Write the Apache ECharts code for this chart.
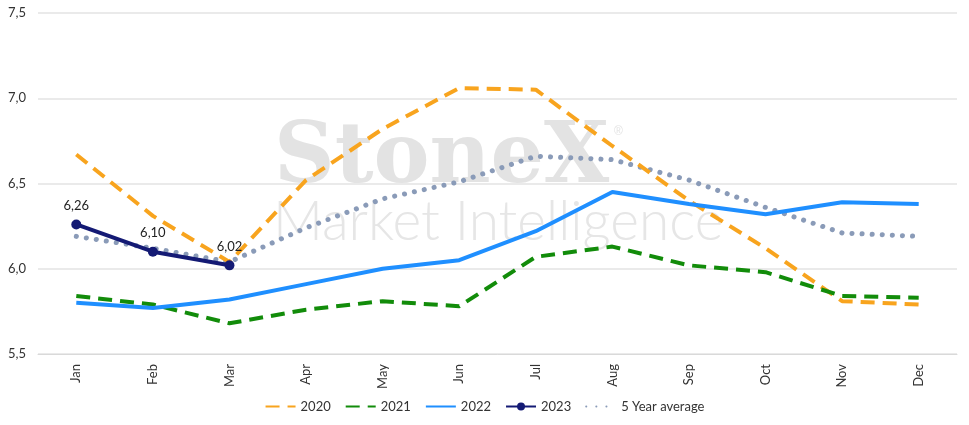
<!DOCTYPE html>
<html>
<head>
<meta charset="utf-8">
<script src="https://cdn.jsdelivr.net/npm/echarts@6/dist/echarts.min.js"></script>
<style>
  html, body { margin: 0; padding: 0; background: #fff; }
  #chart { width: 969px; height: 425px; }
</style>
</head>
<body>
<div id="chart"></div>
<script>
const months = ['Jan', 'Feb', 'Mar', 'Apr', 'May', 'Jun', 'Jul', 'Aug', 'Sep', 'Oct', 'Nov', 'Dec'];
const y2020 = [6.67, 6.31, 6.04, 6.52, 6.82, 7.06, 7.05, 6.72, 6.40, 6.12, 5.81, 5.79];
const y2021 = [5.84, 5.79, 5.68, 5.76, 5.81, 5.78, 6.07, 6.13, 6.02, 5.98, 5.84, 5.83];
const y2022 = [5.80, 5.77, 5.82, 5.91, 6.00, 6.05, 6.22, 6.45, 6.38, 6.32, 6.39, 6.38];
const y2023 = [6.26, 6.10, 6.02];
const avg5 = [6.19, 6.12, 6.04, 6.24, 6.41, 6.51, 6.66, 6.64, 6.52, 6.36, 6.21, 6.19];
const yTicks = [5.5, 6.0, 6.5, 7.0, 7.5];

const font = 'Lato, "Noto Sans", sans-serif';
const fmt = v => v.toFixed(1).replace('.', ',');
const noDot = { opacity: 0 };

const chart = echarts.init(document.getElementById('chart'));
chart.setOption({
    animation: false,
    grid: { left: 38, right: 12, top: 13, bottom: 71 },
    graphic: [
        {
            type: 'text', left: 274, top: 118, silent: true, z: 0,
            style: { text: 'StoneX', font: 'bold 84px "DejaVu Serif", serif', fill: '#e3e3e3' }
        },
        {
            type: 'text', left: 614, top: 126, silent: true, z: 0,
            style: { text: '®', font: '12px sans-serif', fill: '#e3e3e3' }
        },
        {
            type: 'text', left: 273, top: 195, silent: true, z: 0,
            style: { text: 'Market Intelligence', font: '300 55px Lato, sans-serif', fill: '#e6e6e6' }
        }
    ],
    legend: {
        bottom: 7,
        left: 'center',
        itemWidth: 30,
        itemHeight: 10,
        itemGap: 14,
        textStyle: { fontFamily: font, fontSize: 13, color: '#333' },
        data: [
            { name: '2020', itemStyle: noDot },
            { name: '2021', itemStyle: noDot },
            { name: '2022', itemStyle: noDot },
            { name: '2023' },
            { name: '5 Year average', itemStyle: noDot }
        ]
    },
    xAxis: {
        type: 'category',
        data: months,
        boundaryGap: true,
        axisLine: { lineStyle: { color: '#d9d9d9' } },
        axisTick: { show: false },
        axisLabel: { rotate: 90, color: '#333', fontFamily: font, fontSize: 13, margin: 10 }
    },
    yAxis: {
        type: 'value',
        min: yTicks[0],
        max: yTicks[yTicks.length - 1],
        interval: 0.5,
        axisLine: { show: false },
        axisTick: { show: false },
        splitLine: { lineStyle: { color: '#e3e3e3', width: 1.5 } },
        axisLabel: { color: '#333', fontFamily: font, fontSize: 13, formatter: fmt, margin: 12 }
    },
    series: [
        {
            name: '2020', type: 'line', data: y2020, symbol: 'none', z: 3,
            itemStyle: { color: '#f8a41e' },
            lineStyle: { width: 4, type: [14, 8] }
        },
        {
            name: '2021', type: 'line', data: y2021, symbol: 'none', z: 3,
            itemStyle: { color: '#128c0a' },
            lineStyle: { width: 4, type: [14, 8] }
        },
        {
            name: '2022', type: 'line', data: y2022, symbol: 'none', z: 3,
            itemStyle: { color: '#1f8fff' },
            lineStyle: { width: 4 }
        },
        {
            name: '5 Year average', type: 'line', data: avg5, symbol: 'none', z: 2,
            itemStyle: { color: '#8a9bb8' },
            lineStyle: { width: 5, type: [0.1, 10], cap: 'round' }
        },
        {
            name: '2023', type: 'line', data: y2023, symbol: 'circle', symbolSize: 10, z: 4,
            itemStyle: { color: '#141a74' },
            lineStyle: { width: 4 },
            label: {
                show: true, position: 'top', distance: 7,
                color: '#222', fontFamily: font, fontSize: 13,
                formatter: p => p.value.toFixed(2).replace('.', ',')
            }
        }
    ]
});
</script>
</body>
</html>
